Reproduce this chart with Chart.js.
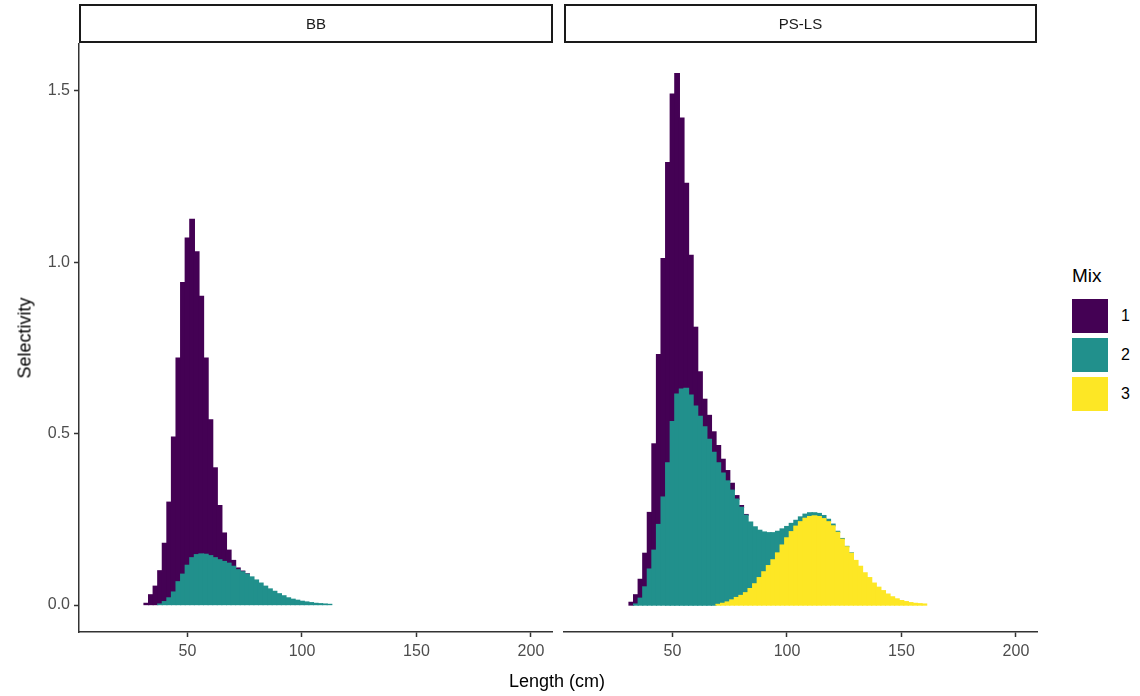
<!DOCTYPE html>
<html>
<head>
<meta charset="utf-8">
<script src="https://cdn.jsdelivr.net/npm/chart.js@4.4.1/dist/chart.umd.min.js"></script>
<style>
  body { margin: 0; width: 1140px; height: 696px; background: #fff; position: relative; overflow: hidden;
         font-family: "Liberation Sans", Arial, sans-serif; }
  canvas { position: absolute; top: 0; }
  .strip { position: absolute; top: 4px; height: 39px; box-sizing: border-box; border: 2px solid #1a1a1a;
           text-align: center; font-size: 15px; line-height: 35px; color: #1a1a1a; }
  .title { position: absolute; font-size: 18px; color: #000; white-space: nowrap; }
  .key { position: absolute; left: 1072px; width: 36px; height: 34px; }
  .keylab { position: absolute; left: 1121px; font-size: 16px; color: #000; line-height: 18px; }
</style>
</head>
<body>
<canvas id="bb" width="556" height="696" style="left:0"></canvas>
<canvas id="ps" width="484" height="696" style="left:556px"></canvas>

<div class="strip" style="left:79px;width:474px">BB</div>
<div class="strip" style="left:564px;width:473px">PS-LS</div>

<div class="title" style="left:557px;top:671px;transform:translateX(-50%)">Length (cm)</div>
<div class="title" style="left:25px;top:338px;transform:translate(-50%,-50%) rotate(-90deg)">Selectivity</div>

<div class="title" style="left:1072px;top:265px;font-size:19px">Mix</div>
<div class="key" style="top:299px;background:#440154"></div>
<div class="key" style="top:338px;background:#21908C"></div>
<div class="key" style="top:377px;background:#FDE725"></div>
<div class="keylab" style="top:307px">1</div>
<div class="keylab" style="top:346px">2</div>
<div class="keylab" style="top:385px">3</div>

<script>
// length bins (cm), 2 cm wide
const bbLength = [32,34,36,38,40,42,44,46,48,50,52,54,56,58,60,62,64,66,68,70,72,74,76,78,80,
  82,84,86,88,90,92,94,96,98,100,102,104,106,108,110,112];
const psLength = [32,34,36,38,40,42,44,46,48,50,52,54,56,58,60,62,64,66,68,70,72,74,76,78,80,
  82,84,86,88,90,92,94,96,98,100,102,104,106,108,110,112,114,116,118,120,122,124,126,128,130,
  132,134,136,138,140,142,144,146,148,150,152,154,156,158,160];

// BB selectivity by mixture component (stacked)
const bbMix1 = [0.005,0.03,0.055,0.097,0.17,0.279,0.452,0.652,0.85,0.954,0.987,0.883,0.751,0.572,0.396,
  0.262,0.158,0.083,0.038,0.017,0.005,0.002,0.001,0,0,0,0,0,0,0,0,0,0,0,0,0,0,0,0,0,0];
const bbMix2 = [0,0,0,0.003,0.01,0.021,0.038,0.068,0.09,0.116,0.138,0.147,0.149,0.148,0.144,0.138,0.132,
  0.127,0.122,0.113,0.103,0.097,0.09,0.082,0.073,0.064,0.055,0.047,0.04,0.033,0.027,0.021,0.017,0.014,
  0.011,0.009,0.007,0.005,0.004,0.003,0.002];

// PS-LS selectivity by mixture component (stacked)
const psMix1 = [0.008,0.027,0.055,0.098,0.165,0.31,0.495,0.695,0.875,0.955,0.935,0.79,0.598,0.408,0.23,
  0.13,0.08,0.07,0.06,0.05,0.04,0.03,0.02,0.01,0.005,0.002,
  0,0,0,0,0,0,0,0,0,0,0,0,0,0,0,0,0,0,0,0,0,0,0,0,0,0,0,0,0,0,0,0,0,0,0,0,0,0,0];
const psMix2 = [0,0.003,0.02,0.053,0.105,0.16,0.235,0.315,0.415,0.535,0.615,0.63,0.632,0.612,0.58,0.55,
  0.52,0.483,0.445,0.413,0.38,0.353,0.32,0.287,0.257,0.226,0.194,0.166,0.138,0.116,0.096,0.079,0.063,
  0.047,0.033,0.024,0.017,0.014,0.012,0.011,0.009,0.009,0.009,0.007,0.005,0.003,0.002,0.001,0.001,
  0,0,0,0,0,0,0,0,0,0,0,0,0,0,0,0];
const psMix3 = [0,0,0,0,0,0,0,0,0,0,0,0,0,0,0,0,0,0,0,
  0.002,0.005,0.009,0.015,0.022,0.028,0.036,0.048,0.062,0.08,0.097,0.115,0.132,0.152,0.175,0.196,
  0.214,0.23,0.243,0.253,0.258,0.26,0.258,0.252,0.243,0.231,0.212,0.192,0.17,0.151,0.13,0.113,0.094,
  0.08,0.064,0.052,0.042,0.032,0.024,0.018,0.013,0.01,0.007,0.005,0.004,0.003];

const xTicks = [50, 100, 150, 200];
const yTicks = [0, 0.5, 1, 1.5];
const mixColors = { 1: '#440154', 2: '#21908C', 3: '#FDE725' };

Chart.defaults.font.family = '"Liberation Sans", Arial, sans-serif';

function series(lengths, values, mix) {
  return {
    label: String(mix),
    // empty bins are left out so they leave no sliver on the baseline
    data: lengths.map((x, i) => ({ x: x, y: values[i] > 0 ? values[i] : null })),
    backgroundColor: mixColors[mix],
    borderWidth: 0,
    inflateAmount: 0.6,
    barPercentage: 1,
    categoryPercentage: 1
  };
}

function makePanel(canvasId, datasets, showY) {
  const axisColor = '#333333';
  const yScale = {
    display: showY,
    stacked: true,
    min: -0.0785,
    max: 1.636,
    afterBuildTicks: s => { s.ticks = yTicks.map(v => ({ value: v })); },
    ticks: { color: '#4d4d4d', font: { size: 16 }, padding: 4, callback: v => v.toFixed(1) },
    grid: { drawOnChartArea: false, drawTicks: true, tickLength: 5, tickColor: axisColor, tickWidth: 1.5 },
    border: { display: true, color: axisColor, width: 1.5 }
  };
  if (showY) yScale.afterFit = s => { s.width = 79; };

  return new Chart(document.getElementById(canvasId), {
    type: 'bar',
    data: { datasets: datasets },
    options: {
      responsive: false,
      animation: false,
      devicePixelRatio: 1,
      layout: { padding: { top: 44, right: showY ? 4 : 3, left: showY ? 0 : 8, bottom: 0 } },
      plugins: { legend: { display: false }, tooltip: { enabled: false } },
      scales: {
        x: {
          type: 'linear',
          stacked: true,
          offset: false,
          min: 2.6,
          max: 209.2,
          afterBuildTicks: s => { s.ticks = xTicks.map(v => ({ value: v })); },
          ticks: { color: '#4d4d4d', font: { size: 16 }, padding: 5, autoSkip: false, maxRotation: 0 },
          grid: { offset: false, drawOnChartArea: false, drawTicks: true, tickLength: 5,
                  tickColor: axisColor, tickWidth: 1.5 },
          border: { display: true, color: axisColor, width: 1.5 },
          afterFit: s => { s.height = 64; }
        },
        y: yScale
      }
    }
  });
}

makePanel('bb', [
  series(bbLength, bbMix2, 2),
  series(bbLength, bbMix1, 1)
], true);

makePanel('ps', [
  series(psLength, psMix3, 3),
  series(psLength, psMix2, 2),
  series(psLength, psMix1, 1)
], false);
</script>
</body>
</html>
